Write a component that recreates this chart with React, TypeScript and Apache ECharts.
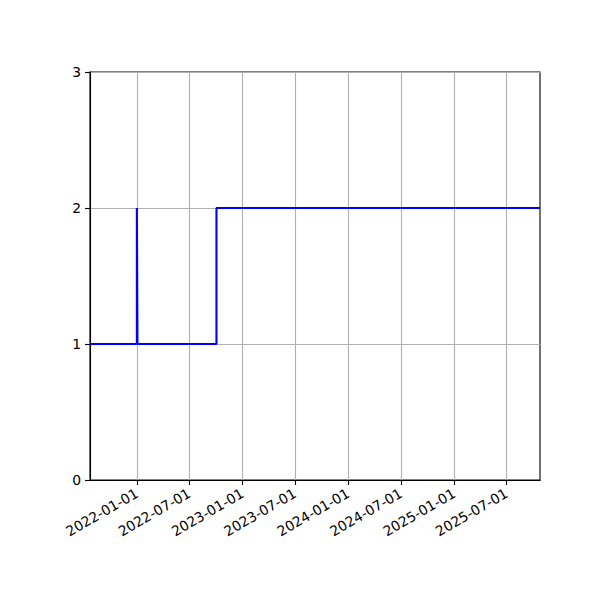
import { useEffect, useRef } from 'react';
import * as echarts from 'echarts';

// step series: value changes at these dates (held until the next one)
const changeDates = ['2021-07-23', '2022-01-01', '2022-01-03', '2022-10-03', '2025-10-25'];
const changeValues = [1, 2, 1, 2, 2];

const xMinDate = '2021-07-23';
const xMaxDate = '2025-10-25';
const xTickDates = [
  '2022-01-01', '2022-07-01', '2023-01-01', '2023-07-01',
  '2024-01-01', '2024-07-01', '2025-01-01', '2025-07-01',
];
const yTicks = [0, 1, 2, 3];

const toTime = (s: string) => {
  const [y, m, d] = s.split('-').map(Number);
  return new Date(y, m - 1, d).getTime();
};

const pad = (n: number) => String(n).padStart(2, '0');
const fmtDate = (t: number) => {
  const d = new Date(t);
  return `${d.getFullYear()}-${pad(d.getMonth() + 1)}-${pad(d.getDate())}`;
};

export default function App() {
  const chartRef = useRef<HTMLDivElement>(null);

  useEffect(() => {
    if (!chartRef.current) return;
    const chart = echarts.init(chartRef.current, undefined, { renderer: 'svg' });

    const tickTimes = xTickDates.map(toTime);
    const font = { fontFamily: 'DejaVu Sans', fontSize: 13.9, color: '#000' };

    chart.setOption({
      animation: false,
      backgroundColor: '#fff',
      grid: {
        left: 90, top: 72, width: 450, height: 408,
        show: true, borderColor: '#000', borderWidth: 1.1, backgroundColor: 'transparent',
      },
      // timestamps on a plain value axis so ticks can sit on the half-year dates
      xAxis: {
        type: 'value',
        min: toTime(xMinDate),
        max: toTime(xMaxDate),
        axisLine: { show: true, lineStyle: { color: '#000', width: 1.1 } },
        axisTick: { show: true, length: 5, customValues: tickTimes, lineStyle: { color: '#000', width: 1.1 } },
        axisLabel: {
          ...font,
          customValues: tickTimes,
          rotate: 30,
          margin: 12,
          formatter: (v: number) => fmtDate(v),
        },
        splitLine: { show: true, lineStyle: { color: '#b0b0b0', width: 1.1 } },
      },
      yAxis: {
        type: 'value',
        min: yTicks[0],
        max: yTicks[yTicks.length - 1],
        interval: 1,
        axisLine: { show: true, lineStyle: { color: '#000', width: 1.1 } },
        axisTick: { show: true, length: 5, lineStyle: { color: '#000', width: 1.1 } },
        axisLabel: { ...font, margin: 9 },
        splitLine: { show: true, lineStyle: { color: '#b0b0b0', width: 1.1 } },
      },
      series: [
        {
          type: 'line',
          step: 'end',
          showSymbol: false,
          data: changeDates.map((d, i) => [toTime(d), changeValues[i]]),
          lineStyle: { color: '#0000ff', width: 2.1 },
          itemStyle: { color: '#0000ff' },
        },
      ],
    });

    return () => chart.dispose();
  }, []);

  return (
    <div
      ref={chartRef}
      style={{ position: 'fixed', left: 0, top: 0, width: 600, height: 600, background: '#fff' }}
    />
  );
}
